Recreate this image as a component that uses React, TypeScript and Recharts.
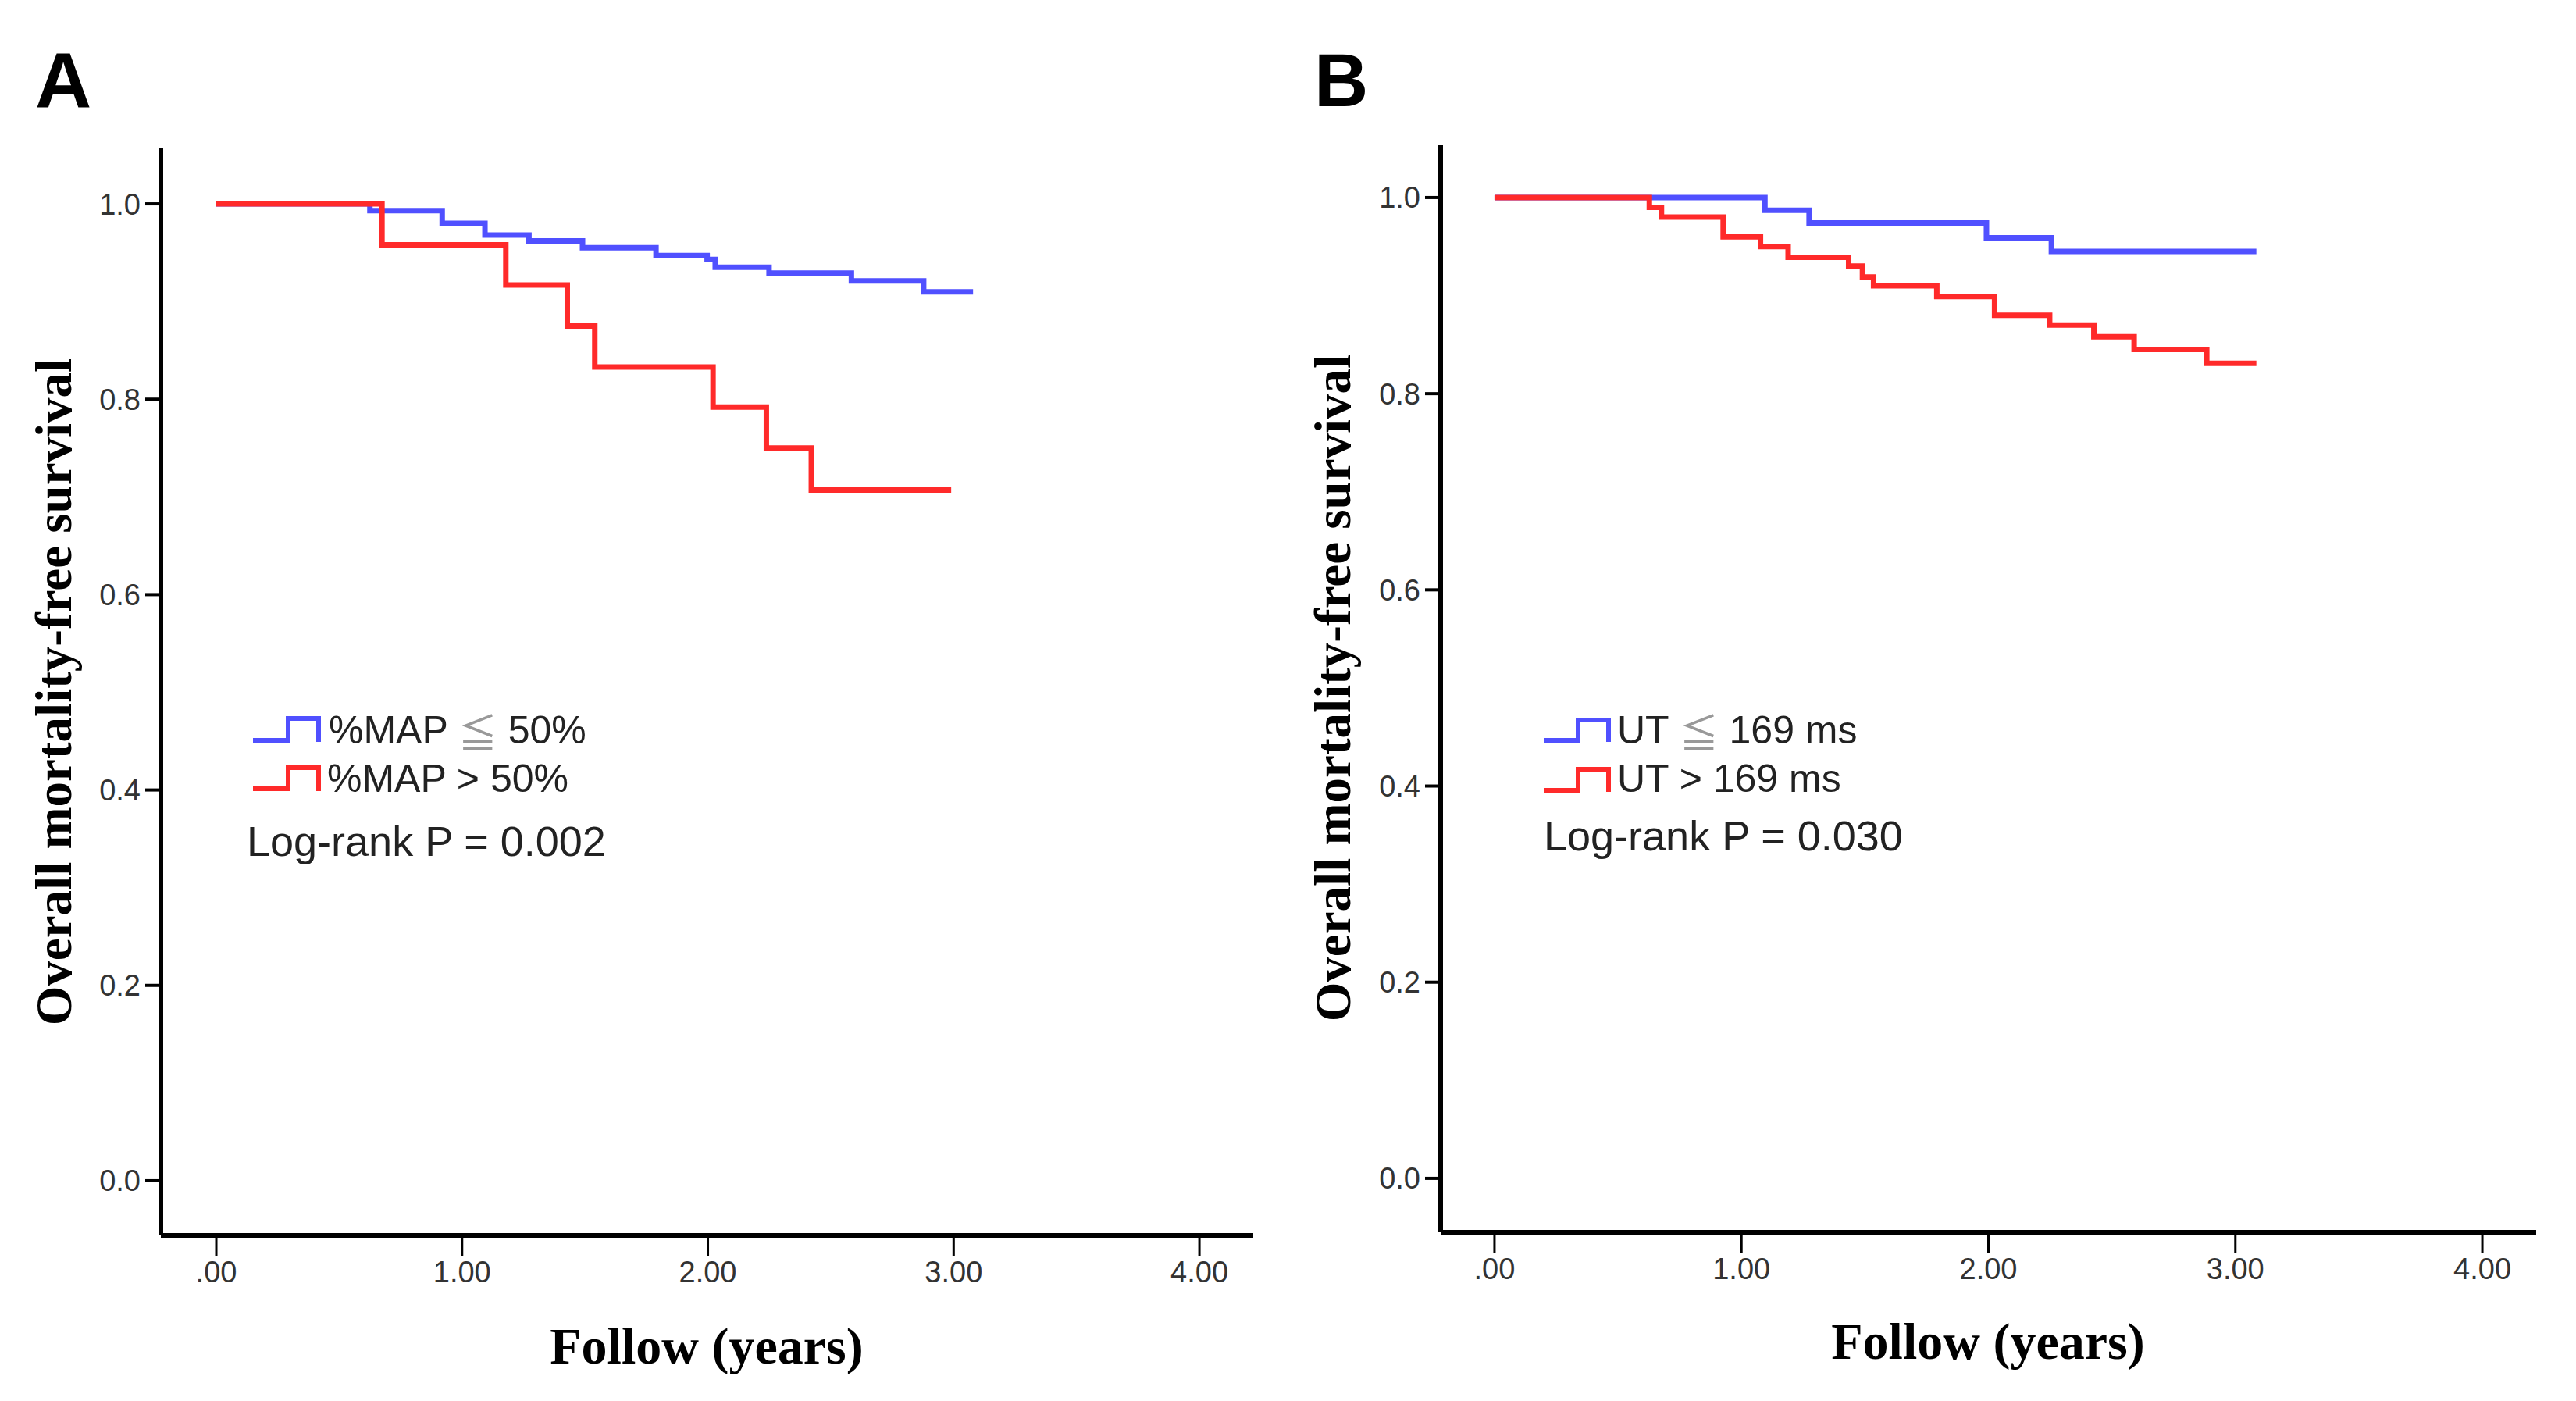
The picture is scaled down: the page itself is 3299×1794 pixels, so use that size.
import React from "react";
import { LineChart, Line, XAxis, YAxis } from "recharts";

// panel A: %MAP groups
const aLowTimes = [0, 0.625, 0.919, 1.093, 1.272, 1.49, 1.789, 1.997, 2.03, 2.249, 2.584, 2.878, 3.079];
const aLowSurv = [1.0, 0.993, 0.98, 0.968, 0.962, 0.955, 0.947, 0.943, 0.935, 0.929, 0.921, 0.91, 0.91];
const aHighTimes = [0, 0.674, 1.178, 1.428, 1.54, 2.021, 2.238, 2.421, 2.99];
const aHighSurv = [1.0, 0.958, 0.917, 0.875, 0.833, 0.792, 0.75, 0.707, 0.707];

// panel B: UT groups
const bLowTimes = [0, 1.095, 1.274, 1.992, 2.255, 3.085];
const bLowSurv = [1.0, 0.987, 0.974, 0.959, 0.945, 0.945];
const bHighTimes = [0, 0.627, 0.676, 0.926, 1.077, 1.189, 1.434, 1.49, 1.535, 1.791, 2.025, 2.248, 2.427, 2.59, 2.884, 3.085];
const bHighSurv = [1.0, 0.99, 0.98, 0.96, 0.95, 0.939, 0.93, 0.919, 0.91, 0.899, 0.88, 0.87, 0.858, 0.845, 0.831, 0.831];

const xTicks = [0, 1, 2, 3, 4];
const yTicks = [0, 0.2, 0.4, 0.6, 0.8, 1.0];

const yTitle = "Overall mortality-free survival";
const xTitle = "Follow (years)";

const BLUE = "#5050FF";
const RED = "#FF2A2A";

const toRows = (times: number[], surv: number[]) => times.map((t, i) => ({ t, s: surv[i] }));

const tickStyle = { fontFamily: "Liberation Sans, Arial, sans-serif", fontSize: 38, fill: "#333" };

const fmtX = (v: number) => (v === 0 ? ".00" : v.toFixed(2));
const fmtY = (v: number) => v.toFixed(1);

type PanelProps = {
  left: number;
  width: number;
  margin: { top: number; right: number; bottom: number; left: number };
  xDomain: [number, number];
  yDomain: [number, number];
  low: { t: number; s: number }[];
  high: { t: number; s: number }[];
};

const Panel: React.FC<PanelProps> = ({ left, width, margin, xDomain, yDomain, low, high }) => (
  <div style={{ position: "absolute", left, top: 0 }}>
    <LineChart width={width} height={1794} margin={margin}>
      <XAxis
        dataKey="t"
        type="number"
        domain={xDomain}
        allowDataOverflow
        ticks={xTicks}
        tickFormatter={fmtX}
        height={100}
        tick={tickStyle}
        tickSize={26}
        tickMargin={7}
        axisLine={{ stroke: "#000", strokeWidth: 6 }}
        tickLine={{ stroke: "#000", strokeWidth: 3 }}
      />
      <YAxis
        type="number"
        domain={yDomain}
        allowDataOverflow
        ticks={yTicks}
        tickFormatter={fmtY}
        width={100}
        tick={tickStyle}
        tickSize={20}
        tickMargin={6}
        axisLine={{ stroke: "#000", strokeWidth: 6 }}
        tickLine={{ stroke: "#000", strokeWidth: 4 }}
      />
      <Line data={low} dataKey="s" type="stepAfter" stroke={BLUE} strokeWidth={7} dot={false} isAnimationActive={false} />
      <Line data={high} dataKey="s" type="stepAfter" stroke={RED} strokeWidth={7} dot={false} isAnimationActive={false} />
    </LineChart>
  </div>
);

const serifBold = { fontFamily: "Liberation Serif, Times New Roman, serif", fontWeight: 700, fill: "#000" };
const legendFont = { fontFamily: "Liberation Sans, Arial, sans-serif", fontSize: 50, fill: "#222" };
const leq = <tspan fill="#999" fontFamily="Noto Sans CJK JP">≦</tspan>;

export default function App() {
  return (
    <div style={{ position: "absolute", left: 0, top: 0, width: 3299, height: 1794, background: "#fff" }}>
      <Panel
        left={0}
        width={1700}
        margin={{ top: 189, right: 95, bottom: 112, left: 106 }}
        xDomain={[-0.2256, 4.219]}
        yDomain={[-0.056, 1.0576]}
        low={toRows(aLowTimes, aLowSurv)}
        high={toRows(aHighTimes, aHighSurv)}
      />
      <Panel
        left={1700}
        width={1599}
        margin={{ top: 186, right: 51, bottom: 116, left: 45 }}
        xDomain={[-0.218, 4.218]}
        yDomain={[-0.055, 1.0533]}
        low={toRows(bLowTimes, bLowSurv)}
        high={toRows(bHighTimes, bHighSurv)}
      />
      <svg width={3299} height={1794} style={{ position: "absolute", left: 0, top: 0, pointerEvents: "none" }}>
        <text x={45} y={138} fontFamily="Liberation Sans, Arial, sans-serif" fontWeight={700} fontSize={100}>A</text>
        <text x={1683} y={136} fontFamily="Liberation Sans, Arial, sans-serif" fontWeight={700} fontSize={96}>B</text>

        <text transform="translate(69,886) rotate(-90)" textAnchor="middle" dominantBaseline="central" {...serifBold} fontSize={65}>{yTitle}</text>
        <text transform="translate(1707,881) rotate(-90)" textAnchor="middle" dominantBaseline="central" {...serifBold} fontSize={65}>{yTitle}</text>
        <text x={905} y={1723} textAnchor="middle" dominantBaseline="central" {...serifBold} fontSize={66}>{xTitle}</text>
        <text x={2546} y={1717} textAnchor="middle" dominantBaseline="central" {...serifBold} fontSize={66}>{xTitle}</text>

        {/* legend A */}
        <path d="M324 948 H369 V920 H408 V950" fill="none" stroke={BLUE} strokeWidth={6} />
        <path d="M324 1010 H369 V983 H408 V1013" fill="none" stroke={RED} strokeWidth={6} />
        <text x={421} y={935} dominantBaseline="central" {...legendFont}>%MAP {leq} 50%</text>
        <text x={419} y={997} dominantBaseline="central" {...legendFont}>%MAP &gt; 50%</text>
        <text x={316} y={1077} dominantBaseline="central" {...legendFont} fontSize={54}>Log-rank P = 0.002</text>

        {/* legend B */}
        <path d="M1977 948 H2021 V922 H2060 V950" fill="none" stroke={BLUE} strokeWidth={6} />
        <path d="M1977 1012 H2021 V985 H2060 V1014" fill="none" stroke={RED} strokeWidth={6} />
        <text x={2071} y={935} dominantBaseline="central" {...legendFont}>UT {leq} 169 ms</text>
        <text x={2071} y={997} dominantBaseline="central" {...legendFont}>UT &gt; 169 ms</text>
        <text x={1977} y={1070} dominantBaseline="central" {...legendFont} fontSize={54}>Log-rank P = 0.030</text>
      </svg>
    </div>
  );
}
